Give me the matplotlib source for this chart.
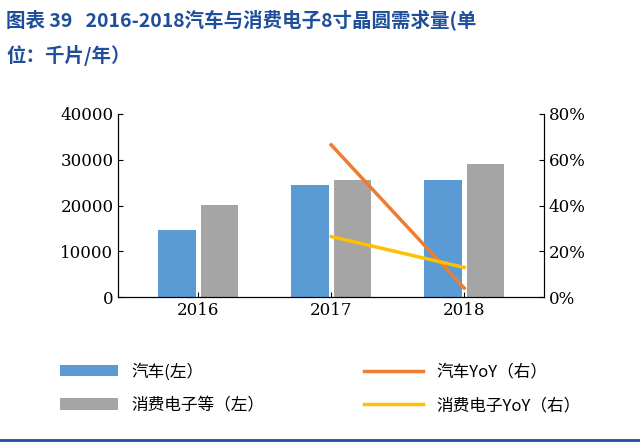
import matplotlib.pyplot as plt
import numpy as np

plt.rcParams['font.family'] = ['Noto Sans CJK SC', 'DejaVu Sans']

years = ['2016', '2017', '2018']
car = [14600, 24400, 25500]
consumer = [20100, 25500, 29000]
car_yoy = [66.5, 4.0]
consumer_yoy = [26.5, 13.0]

fig = plt.figure(figsize=(6.4, 4.47), dpi=100)
ax = fig.add_axes([0.185, 0.335, 0.665, 0.41])
x = np.arange(len(years))
w = 0.28
b1 = ax.bar(x - w / 2 - 0.02, car, w, color='#5b9bd5', label='汽车(左）')
b2 = ax.bar(x + w / 2 + 0.02, consumer, w, color='#a5a5a5', label='消费电子等（左）')
ax.set_ylim(0, 40000)
ax.set_yticks(range(0, 40001, 10000))
ax.set_xticks(x)
ax.set_xticklabels(years)
ax.set_xlim(-0.6, 2.6)
ax.spines['top'].set_visible(False)
ax.tick_params(labelsize=12, direction='in')
for lab in ax.get_xticklabels() + ax.get_yticklabels():
    lab.set_family('DejaVu Serif')

ax2 = ax.twinx()
l1, = ax2.plot(x[1:], car_yoy, color='#ed7d31', lw=2.5, label='汽车YoY（右）')
l2, = ax2.plot(x[1:], consumer_yoy, color='#ffc000', lw=2.5, label='消费电子YoY（右）')
ax2.set_ylim(0, 80)
ax2.set_yticks(range(0, 81, 20))
ax2.set_yticklabels([f'{v}%' for v in range(0, 81, 20)])
ax2.spines['top'].set_visible(False)
ax2.tick_params(labelsize=12, direction='in')
for lab in ax2.get_yticklabels():
    lab.set_family('DejaVu Serif')

fig.legend(handles=[b1, b2, l1, l2], loc='lower center', ncol=2,
           bbox_to_anchor=(0.5, 0.04), frameon=False, fontsize=12,
           columnspacing=6, handlelength=3.5, labelspacing=1.0)

fig.text(0.01, 0.955, '图表 39   2016-2018汽车与消费电子8寸晶圆需求量(单', fontsize=14,
         fontweight='bold', color='#1f4e9a', va='center')
fig.text(0.01, 0.875, '位：千片/年）', fontsize=14, fontweight='bold', color='#1f4e9a', va='center')
fig.add_artist(plt.Line2D([0, 1], [0.015, 0.015], color='#1f4e9a', lw=2))

fig.savefig('out.png')
